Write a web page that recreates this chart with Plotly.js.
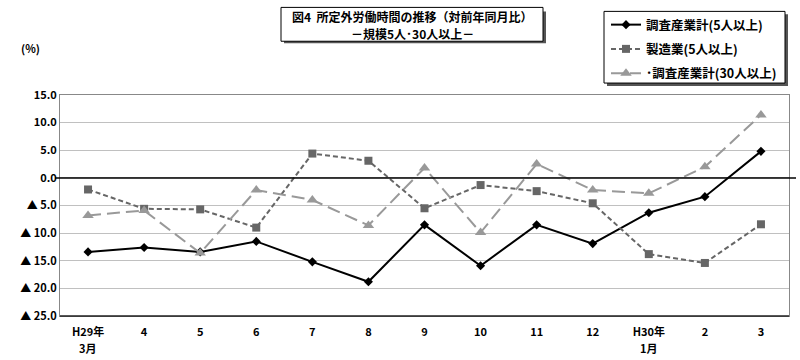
<!DOCTYPE html>
<html><head><meta charset="utf-8">
<script src="https://cdn.plot.ly/plotly-3.0.1.min.js"></script>
<style>html,body{margin:0;padding:0;background:#fff;}#chart{width:800px;height:360px;}</style>
</head><body><div id="chart"></div>
<script>
const categories = ["H29年3月","4","5","6","7","8","9","10","11","12","H30年1月","2","3"];
const tickLine1 = ["H29年","4","5","6","7","8","9","10","11","12","H30年","2","3"];
const tickLine2 = ["3月","","","","","","","","","","1月","",""];
const total5 = [-13.4,-12.6,-13.4,-11.5,-15.2,-18.8,-8.5,-15.9,-8.5,-11.9,-6.3,-3.4,4.8];
const manuf5 = [-2.1,-5.6,-5.7,-9.0,4.4,3.1,-5.5,-1.3,-2.4,-4.6,-13.8,-15.4,-8.4];
const total30 = [-6.8,-5.9,-13.6,-2.2,-4.0,-8.6,1.8,-9.9,2.5,-2.2,-2.8,2.0,11.4];
const seriesNames = ["調査産業計(5人以上)","製造業(5人以上)","･調査産業計(30人以上)"];
const titleLines = ["図4  所定外労働時間の推移（対前年同月比）","－規模5人･30人以上－"];
const yTickVals = [15,10,5,0,-5,-10,-15,-20,-25];
const yTickText = ["15.0","10.0","5.0","0.0","▲ 5.0","▲ 10.0","▲ 15.0","▲ 20.0","▲ 25.0"];

const F = '"Noto Sans CJK JP", "Noto Sans", sans-serif';
const L = 60, R = 789, T = 94, B = 316;
const px = v => (v - L) / (R - L);
const py = v => (B - v) / (B - T);

const traces = [
  {x: categories, y: total5, name: seriesNames[0], legendgroup: 'a', type: 'scatter', mode: 'lines+markers',
   line: {color: '#000', width: 2}, marker: {symbol: 'diamond', size: 7, color: '#000'}},
  {x: categories, y: manuf5, name: seriesNames[1], legendgroup: 'b', type: 'scatter', mode: 'lines+markers',
   line: {color: '#666', width: 2, dash: '5px,3px'}, marker: {symbol: 'square', size: 8, color: '#666'}},
  {x: categories, y: total30, name: seriesNames[2], legendgroup: 'c', type: 'scatter', mode: 'lines+markers',
   line: {color: '#999', width: 2, dash: '13px,6px'}, marker: {symbol: 'triangle-up', size: 10, color: '#999'}}
];

const annotations = [
  {xref: 'paper', yref: 'paper', x: px(412), y: py(15), xanchor: 'center', yanchor: 'middle', showarrow: false,
   text: titleLines[0], font: {family: F, size: 12, weight: 'bold'}},
  {xref: 'paper', yref: 'paper', x: px(412), y: py(32.5), xanchor: 'center', yanchor: 'middle', showarrow: false,
   text: titleLines[1], font: {family: F, size: 12, weight: 'bold'}},
  {xref: 'paper', yref: 'paper', x: px(30), y: py(47), xanchor: 'center', yanchor: 'middle', showarrow: false,
   text: '(%)', font: {family: F, size: 11, weight: 'bold'}}
];
categories.forEach((c, i) => {
  if (tickLine2[i]) annotations.push({xref: 'x', yref: 'paper', x: c, y: py(348), xanchor: 'center', yanchor: 'middle',
    showarrow: false, text: tickLine2[i], font: {family: F, size: 11, weight: 'bold'}});
});

const layout = {
  width: 800, height: 360,
  margin: {l: L, r: 800 - R, t: T, b: 360 - B},
  paper_bgcolor: '#fff', plot_bgcolor: '#fff',
  font: {family: F, size: 11, color: '#000', weight: 'bold'},
  showlegend: true,
  legend: {x: px(606), y: py(10), xanchor: 'left', yanchor: 'top', bgcolor: 'rgba(0,0,0,0)',
           borderwidth: 0, font: {family: F, size: 12.5, weight: 'bold'}, tracegroupgap: 5, itemwidth: 30},
  xaxis: {type: 'category', range: [-0.5, 12.5], tickvals: categories, ticktext: tickLine1,
          showgrid: false, showline: true, linecolor: '#888', linewidth: 1, mirror: true,
          ticks: '', ticklabelstandoff: 6, tickfont: {family: F, size: 11, weight: 'bold'}, fixedrange: true, zeroline: false},
  yaxis: {range: [-25, 15], tickvals: yTickVals, ticktext: yTickText, showgrid: true, gridcolor: '#c0c0c0',
          showline: true, linecolor: '#888', mirror: true, zeroline: false, ticks: '',
          tickfont: {family: F, size: 11, weight: 'bold'}, fixedrange: true},
  shapes: [
    {type: 'line', xref: 'paper', yref: 'y', x0: px(55), x1: px(796), y0: 0, y1: 0, line: {color: '#000', width: 1.5}},
    {type: 'line', xref: 'paper', yref: 'paper', x0: 0, x1: 1, y0: 0, y1: 0, line: {color: '#222', width: 1.5}},
    {type: 'rect', xref: 'paper', yref: 'paper', x0: px(284), x1: px(546), y0: py(10), y1: py(42), fillcolor: '#555', line: {width: 0}},
    {type: 'rect', xref: 'paper', yref: 'paper', x0: px(281), x1: px(543), y0: py(6), y1: py(40), fillcolor: '#fff', line: {color: '#000', width: 1}},
    {type: 'rect', xref: 'paper', yref: 'paper', x0: px(607), x1: px(788), y0: py(13), y1: py(85), fillcolor: '#555', line: {width: 0}},
    {type: 'rect', xref: 'paper', yref: 'paper', x0: px(604), x1: px(785), y0: py(10), y1: py(82), fillcolor: '#fff', line: {color: '#000', width: 1}}
  ],
  annotations: annotations
};

Plotly.newPlot('chart', traces, layout, {displayModeBar: false, staticPlot: true});
</script></body></html>
